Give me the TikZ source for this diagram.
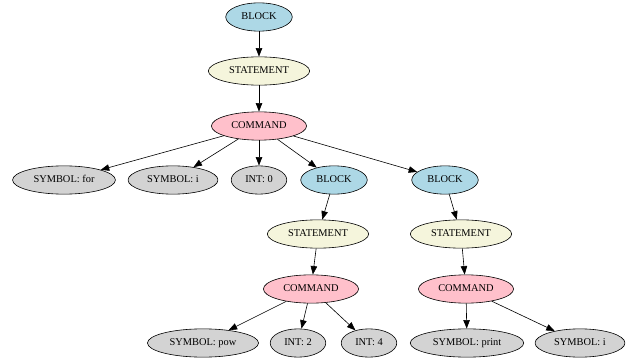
\documentclass[tikz,border=0pt]{standalone}
\usepackage{fontspec}
\setmainfont{Liberation Serif}
\usepackage{xcolor}
\usetikzlibrary{arrows.meta,shapes.geometric}
\definecolor{blockblue}{HTML}{ADD8E6}
\definecolor{stmtbeige}{HTML}{F5F5DC}
\definecolor{cmdpink}{HTML}{FFC0CB}
\definecolor{leafgray}{HTML}{D3D3D3}
\tikzset{
  astnode/.style={draw, ellipse, line width=0.6pt, font=\fontsize{10.4}{12}\selectfont,
    inner xsep=5.9pt, inner ysep=5.5pt, text height=7pt, text depth=2pt},
  blocknode/.style={astnode, fill=blockblue},
  stmtnode/.style={astnode, fill=stmtbeige},
  cmdnode/.style={astnode, fill=cmdpink},
  leafnode/.style={astnode, fill=leafgray},
  arrow/.style={-{Triangle[length=8.5pt,width=6.5pt]}, line width=0.6pt},
}
\begin{document}
\begin{tikzpicture}[x=1pt,y=-1pt]
\useasboundingbox (0,0) rectangle (630,361);
% top level
\node[blocknode] (blk) at (259,17) {BLOCK};
\node[stmtnode] (stm) at (259,71) {STATEMENT};
\node[cmdnode] (cmd) at (259,126) {COMMAND};
% arguments of the for command
\node[leafnode] (symfor) at (64,180) {SYMBOL: for};
\node[leafnode] (symi) at (173,180) {SYMBOL: i};
\node[leafnode] (int0) at (259,180) {INT: 0};
\node[blocknode] (blkA) at (334,180) {BLOCK};
\node[blocknode] (blkB) at (445,180) {BLOCK};
% first inner block
\node[stmtnode] (stmA) at (318,234) {STATEMENT};
\node[cmdnode] (cmdA) at (311,289) {COMMAND};
\node[leafnode] (sympow) at (203,343) {SYMBOL: pow};
\node[leafnode] (int2) at (298,343) {INT: 2};
\node[leafnode] (int4) at (369,343) {INT: 4};
% second inner block
\node[stmtnode] (stmB) at (461,234) {STATEMENT};
\node[cmdnode] (cmdB) at (466,289) {COMMAND};
\node[leafnode] (symprint) at (467,343) {SYMBOL: print};
\node[leafnode] (symi2) at (580,343) {SYMBOL: i};
% edges
\draw[arrow] (blk) -- (stm);
\draw[arrow] (stm) -- (cmd);
\foreach \c in {symfor,symi,int0,blkA,blkB}
  \draw[arrow] (cmd) -- (\c);
\draw[arrow] (blkA) -- (stmA);
\draw[arrow] (stmA) -- (cmdA);
\foreach \c in {sympow,int2,int4}
  \draw[arrow] (cmdA) -- (\c);
\draw[arrow] (blkB) -- (stmB);
\draw[arrow] (stmB) -- (cmdB);
\foreach \c in {symprint,symi2}
  \draw[arrow] (cmdB) -- (\c);
\end{tikzpicture}
\end{document}
